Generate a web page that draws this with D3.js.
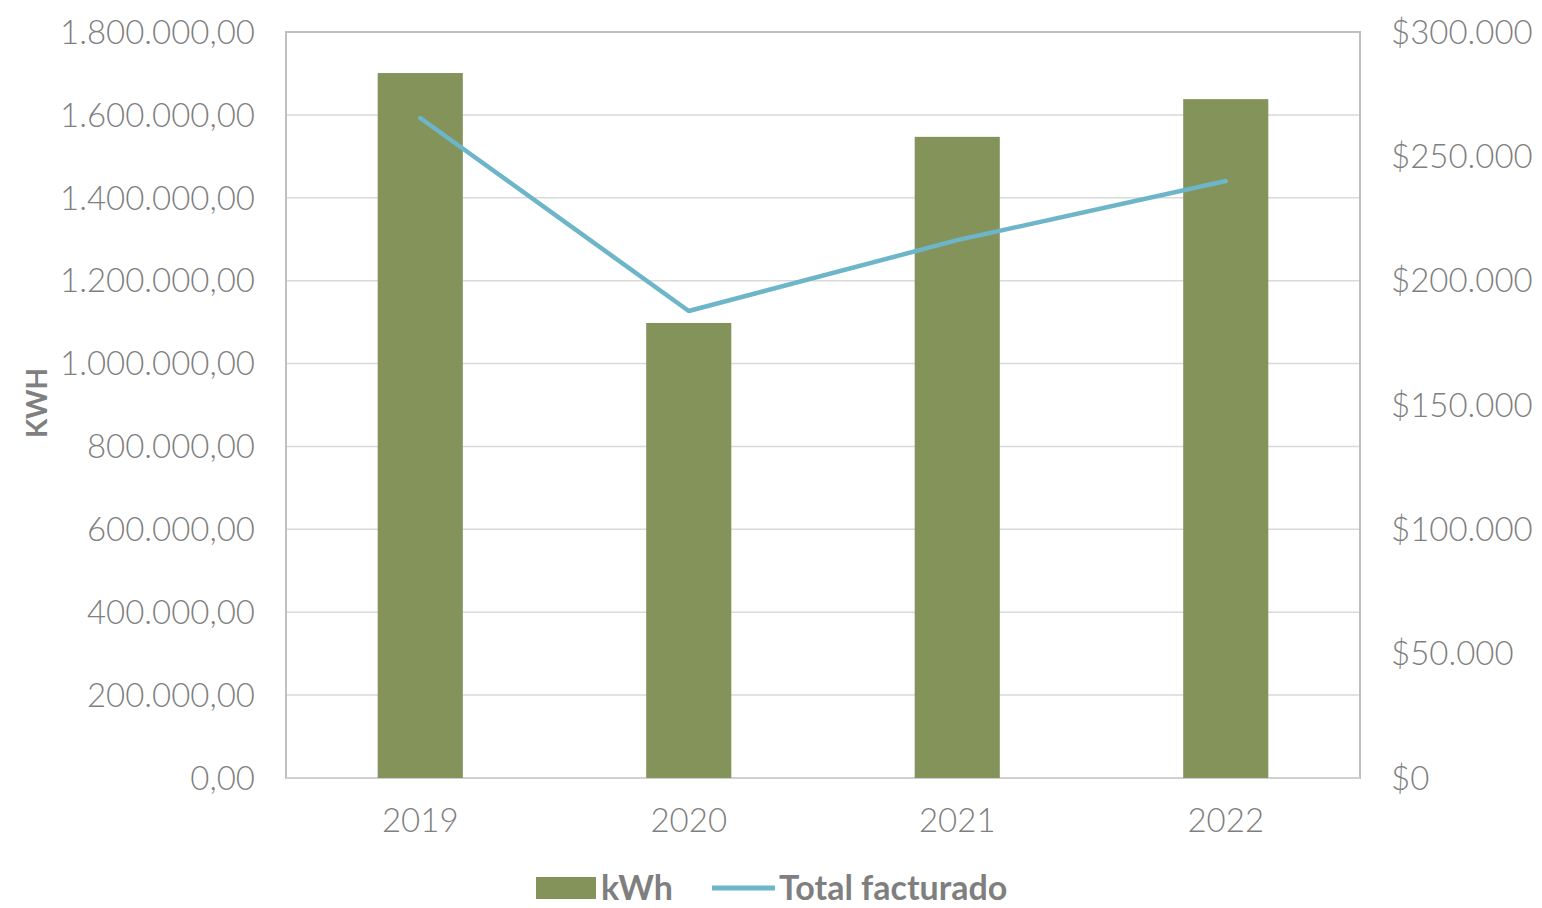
<!DOCTYPE html>
<html>
<head>
<meta charset="utf-8">
<script src="https://cdn.jsdelivr.net/npm/d3@7"></script>
<style>
  body { margin: 0; background: #fff; }
  text { font-family: Lato, "Noto Sans", sans-serif; }
  .tick-label { font-weight: 300; fill: #7f7f7f; font-size: 33px; }
</style>
</head>
<body>
<svg width="1542" height="908"></svg>
<script>
// data
var years = ["2019", "2020", "2021", "2022"];
var kwh = [1701000, 1098000, 1547000, 1638000];
var facturado = [265400, 187800, 216300, 240100];
var leftTicks = [0, 200000, 400000, 600000, 800000, 1000000, 1200000, 1400000, 1600000, 1800000];
var rightTicks = [0, 50000, 100000, 150000, 200000, 250000, 300000];

var svg = d3.select("svg");
var margin = {top: 32, right: 182, bottom: 130, left: 286};
var width = 1542 - margin.left - margin.right,
    height = 908 - margin.top - margin.bottom;

var g = svg.append("g")
    .attr("transform", "translate(" + margin.left + "," + margin.top + ")");

var x = d3.scaleBand().domain(years).range([0, width]).paddingInner(0.683).paddingOuter(0.3415);
var y = d3.scaleLinear().domain([0, 1800000]).range([height, 0]);
var y2 = d3.scaleLinear().domain([0, 300000]).range([height, 0]);

// es-style number formats
var fmtL = function(v) {
  var s = d3.format(",.2f")(v);
  return s.replace(/,/g, "#").replace(".", ",").replace(/#/g, ".");
};
var fmtR = function(v) {
  return "$" + d3.format(",")(v).replace(/,/g, ".");
};

// gridlines
g.append("g")
  .selectAll("line")
  .data(leftTicks.slice(1))
  .enter().append("line")
  .attr("x1", 0).attr("x2", width)
  .attr("y1", d => y(d)).attr("y2", d => y(d))
  .attr("stroke", "#d9d9d9").attr("stroke-width", 1.5);

// frame
g.append("rect")
  .attr("x", 0).attr("y", 0).attr("width", width).attr("height", height)
  .attr("fill", "none").attr("stroke", "#bfbfbf").attr("stroke-width", 2);
g.append("line")
  .attr("x1", 0).attr("x2", width).attr("y1", height).attr("y2", height)
  .attr("stroke", "#d0d0d0").attr("stroke-width", 2);

// bars
g.selectAll(".bar")
  .data(kwh)
  .enter().append("rect")
  .attr("class", "bar")
  .attr("x", (d, i) => x(years[i]))
  .attr("width", x.bandwidth())
  .attr("y", d => y(d))
  .attr("height", d => height - y(d))
  .attr("fill", "#84935a");

// line
var line = d3.line()
  .x((d, i) => x(years[i]) + x.bandwidth() / 2)
  .y(d => y2(d));
g.append("path")
  .datum(facturado)
  .attr("d", line)
  .attr("fill", "none")
  .attr("stroke", "#6db5c9")
  .attr("stroke-width", 4.5)
  .attr("stroke-linejoin", "round")
  .attr("stroke-linecap", "round");

// left axis
var yAxis = d3.axisLeft(y).tickValues(leftTicks).tickFormat(fmtL).tickSize(0).tickPadding(31);
var ga = g.append("g").call(yAxis);
ga.select(".domain").remove();
ga.selectAll("text").attr("class", "tick-label").attr("dy", "0.34em");

// right axis
var yAxis2 = d3.axisRight(y2).tickValues(rightTicks).tickFormat(fmtR).tickSize(0).tickPadding(31);
var gb = g.append("g").attr("transform", "translate(" + width + ",0)").call(yAxis2);
gb.select(".domain").remove();
gb.selectAll("text").attr("class", "tick-label").attr("dy", "0.34em");

// x axis
var xAxis = d3.axisBottom(x).tickSize(0).tickPadding(31);
var gx = g.append("g").attr("transform", "translate(0," + height + ")").call(xAxis);
gx.select(".domain").remove();
gx.selectAll("text").attr("class", "tick-label").attr("dy", "0.71em");

// y title
svg.append("text")
  .attr("transform", "translate(47," + (margin.top + height / 2 - 2) + ") rotate(-90)")
  .attr("text-anchor", "middle")
  .attr("font-size", 28)
  .attr("font-weight", 700)
  .attr("fill", "#7f7f7f")
  .text("KWH");

// legend
var lg = svg.append("g").attr("transform", "translate(536,888)");
lg.append("rect").attr("x", 0).attr("y", -11).attr("width", 60).attr("height", 22).attr("fill", "#84935a");
lg.append("text").attr("x", 65).attr("y", 0).attr("dy", "0.35em")
  .attr("font-size", 34).attr("font-weight", 700).attr("fill", "#7f7f7f").text("kWh");
lg.append("line").attr("x1", 176).attr("x2", 239).attr("y1", 0).attr("y2", 0)
  .attr("stroke", "#6db5c9").attr("stroke-width", 5);
lg.append("text").attr("x", 243).attr("y", 0).attr("dy", "0.35em")
  .attr("font-size", 34).attr("font-weight", 700).attr("fill", "#7f7f7f").text("Total facturado");
</script>
</body>
</html>
